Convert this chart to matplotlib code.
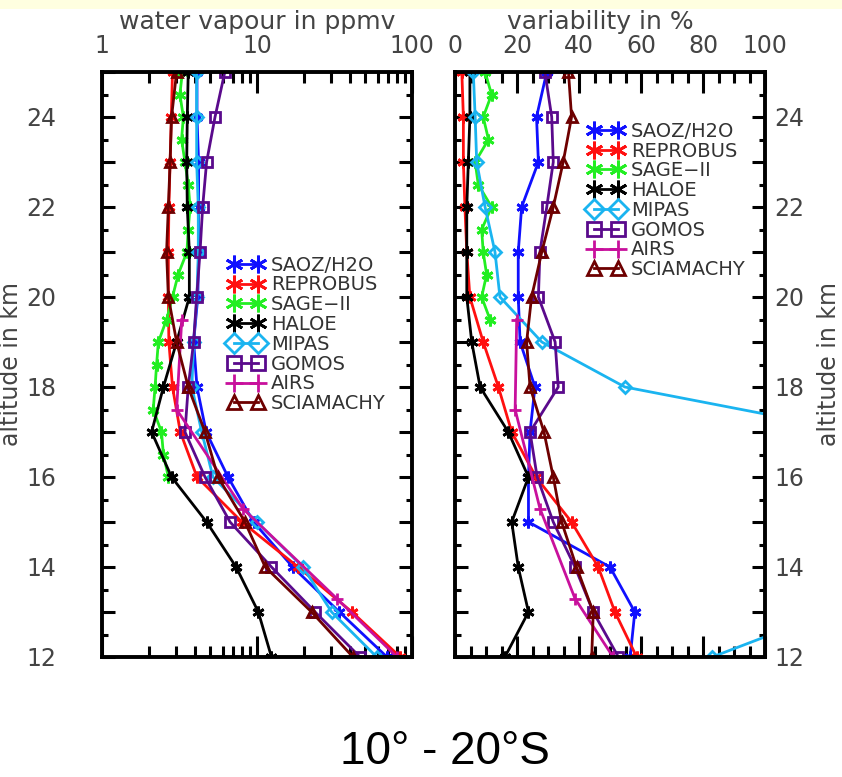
import matplotlib
matplotlib.use("Agg")
import matplotlib.pyplot as plt
from matplotlib.ticker import MultipleLocator, FixedLocator, FuncFormatter, NullFormatter
from matplotlib.patches import Rectangle

# ---- altitude grids (km) ----
alt = [25, 24, 23, 22, 21, 20, 19, 18, 17, 16, 15, 14, 13, 12]
alt_sage_wv = [25, 24.5, 24, 23.5, 23, 22.5, 22, 21.5, 21, 20.5, 20, 19.5,
               19, 18.5, 18, 17.5, 17, 16.5, 16]
alt_sage_var = [25, 24.5, 24, 23.5, 23, 22.5, 22, 21.5, 21, 20.5, 20, 19.5]
alt_airs = [19.5, 17.5, 15.3, 13.3, 12.0]

# ---- water vapour mixing ratio (ppmv) ----
wv_saoz = [4.1, 4.1, 4.2, 4.2, 4.2, 4.15, 3.9, 4.1, 4.7, 6.5, 9.5, 17.0, 34.0, 69.0]
wv_reprobus = [2.85, 2.8, 2.75, 2.7, 2.68, 2.68, 2.7, 2.85, 3.2, 4.1, 8.0, 18.4, 41.0, 84.0]
wv_sage = [3.3, 3.18, 3.35, 3.26, 3.43, 3.6, 3.7, 3.6, 3.53, 3.1, 2.85, 2.61,
           2.31, 2.25, 2.2, 2.14, 2.42, 2.49, 2.68]
wv_haloe = [3.6, 3.55, 3.52, 3.55, 3.66, 3.66, 3.03, 2.49, 2.09, 2.81, 4.73, 7.33, 10.2, 12.4]
wv_mipas = [4.08, 4.08, 4.08, 4.18, 4.18, 4.1, 3.9, 3.8, 4.4, 5.2, 9.95, 19.8, 30.3, 59.2]
wv_gomos = [6.2, 5.36, 4.73, 4.46, 4.29, 4.08, 3.9, 3.6, 3.43, 4.62, 6.7, 12.4, 23.7, 46.2]
wv_airs = [3.27, 3.03, 8.1, 32.7, 80.0]
wv_sciamachy = [3.03, 2.81, 2.75, 2.68, 2.61, 2.68, 3.03, 3.6, 4.62, 5.6, 8.36, 11.3, 22.5, 41.6]

# ---- variability (%) ----
var_saoz = [29.6, 26.3, 26.9, 21.5, 20.4, 20.4, 21.0, 25.8, 24.2, 23.7, 23.7, 50.0, 58.0, 56.5]
var_reprobus = [2.2, 2.7, 2.7, 3.2, 3.8, 4.8, 9.1, 14.0, 18.3, 26.1, 37.6, 46.2, 51.6, 58.6]
var_sage = [9.7, 11.8, 9.1, 10.8, 6.5, 7.5, 11.8, 8.6, 9.1, 10.2, 8.6, 11.3]
var_haloe = [4.8, 4.8, 4.3, 3.8, 3.8, 3.8, 5.4, 8.1, 17.2, 23.7, 18.3, 20.4, 23.7, 16.1]
var_mipas = [5.9, 6.5, 7.0, 9.7, 12.9, 14.5, 28.0, 54.8, 130.0, 150.0, 140.0, 130.0, 121.0, 83.0]
var_gomos = [29.0, 31.2, 31.7, 29.6, 27.4, 26.9, 32.3, 33.3, 24.2, 26.5, 31.7, 38.7, 44.6, 52.7]
var_airs = [19.9, 19.4, 27.4, 38.7, 51.0]
var_sciamachy = [36.6, 37.6, 34.9, 31.7, 28.0, 24.7, 23.1, 24.2, 28.7, 31.7, 34.4, 39.2, 44.6, 44.1]

names = ["SAOZ/H2O", "REPROBUS", "SAGE\u2212II", "HALOE", "MIPAS", "GOMOS", "AIRS", "SCIAMACHY"]
colors = ["#1010ff", "#ff1010", "#22ee22", "#000000", "#1ab4f0", "#5a0a8c", "#c8109c", "#6e0000"]
markers = [(6, 2, 0), (6, 2, 0), (6, 2, 0), (6, 2, 0), "D", "s", "+", "^"]
sizes = [8.5, 8.5, 8.5, 8.5, 6.5, 7, 8.5, 7]

wv_series = [(wv_saoz, alt), (wv_reprobus, alt), (wv_sage, alt_sage_wv), (wv_haloe, alt),
             (wv_mipas, alt), (wv_gomos, alt), (wv_airs, alt_airs), (wv_sciamachy, alt)]
var_series = [(var_saoz, alt), (var_reprobus, alt), (var_sage, alt_sage_var), (var_haloe, alt),
              (var_mipas, alt), (var_gomos, alt), (var_airs, alt_airs), (var_sciamachy, alt)]

TXT = "#444444"
FONT = "DejaVu Sans"
plt.rcParams["font.family"] = FONT

W, H = 842, 777
fig = plt.figure(figsize=(W / 100, H / 100), dpi=100)
fig.patch.set_facecolor("white")
fig.patches.append(Rectangle((0, 1 - 9 / H), 1, 9 / H, transform=fig.transFigure,
                             facecolor="#ffffe0", edgecolor="none", zorder=0))


def fx(px):
    return px / W


def fy(py):
    return 1 - py / H


ax1 = fig.add_axes([fx(102), fy(657), fx(412) - fx(102), fy(72) - fy(657)])
ax2 = fig.add_axes([fx(455), fy(657), fx(765) - fx(455), fy(72) - fy(657)])


def draw(ax, series):
    handles = []
    for (vals, alts), name, c, m, ms in zip(series, names, colors, markers, sizes):
        filled = m in [(6, 2, 0), "+"]
        ln, = ax.plot(vals, alts, color=c, lw=2.0, marker=m, ms=ms,
                      mew=2.0, mfc=c if filled else "none", mec=c, label=name,
                      clip_on=True)
        handles.append(ln)
    return handles


h1 = draw(ax1, wv_series)
h2 = draw(ax2, var_series)

for ax in (ax1, ax2):
    ax.set_ylim(12, 25)
    for s in ax.spines.values():
        s.set_linewidth(2.8)
    ax.yaxis.set_major_locator(MultipleLocator(1))
    ax.yaxis.set_minor_locator(MultipleLocator(0.5))
    ax.yaxis.set_major_formatter(FuncFormatter(lambda v, p: "%d" % v if int(round(v)) % 2 == 0 else ""))
    ax.tick_params(axis="both", which="both", direction="in", width=2.2, colors="black",
                   labelcolor=TXT, labelsize=17, top=True, bottom=True, left=True, right=True,
                   labelbottom=False)
    ax.tick_params(axis="x", which="major", length=15, labeltop=True, pad=10)
    ax.tick_params(axis="x", which="minor", length=8)
    ax.tick_params(axis="y", which="major", length=9.5)
    ax.tick_params(axis="y", which="minor", length=4.5)

ax1.set_xscale("log")
ax1.set_xlim(1, 100)
ax1.xaxis.set_major_locator(FixedLocator([1, 10, 100]))
ax1.xaxis.set_major_formatter(FuncFormatter(lambda v, p: "%d" % round(v)))
ax1.xaxis.set_minor_locator(FixedLocator([k * d for d in (1, 10) for k in range(2, 10)]))
ax1.xaxis.set_minor_formatter(NullFormatter())
ax1.tick_params(axis="y", labelleft=True, labelright=False, pad=33)

ax2.set_xlim(0, 100)
ax2.xaxis.set_major_locator(MultipleLocator(20))
ax2.xaxis.set_minor_locator(MultipleLocator(5))
ax2.tick_params(axis="y", labelleft=False, labelright=True, pad=7)

leg_kw = dict(numpoints=2, markerscale=1.5, frameon=False, fontsize=14, labelcolor="#333333",
              handlelength=1.85, handletextpad=0.35, labelspacing=0.04, borderpad=0,
              borderaxespad=0, loc="upper left")
ax1.legend(handles=h1, bbox_to_anchor=(0.406, 0.686), **leg_kw)
ax2.legend(handles=h2, bbox_to_anchor=(0.429, 0.915), **leg_kw)

fig.text(fx(257), fy(29), "water vapour in ppmv", ha="center", va="baseline",
         fontsize=18, color=TXT)
fig.text(fx(600), fy(29), "variability in %", ha="center", va="baseline",
         fontsize=18, color=TXT)
fig.text(fx(11), fy(364), "altitude in km", rotation=90, ha="center", va="center",
         fontsize=17, color=TXT)
fig.text(fx(829), fy(364), "altitude in km", rotation=90, ha="center", va="center",
         fontsize=17, color=TXT)
fig.text(fx(445), fy(752), "10\u00b0 - 20\u00b0S", ha="center", va="center",
         fontsize=33, color="black", family="Liberation Sans")

fig.savefig("out.png", dpi=100, facecolor="white")
